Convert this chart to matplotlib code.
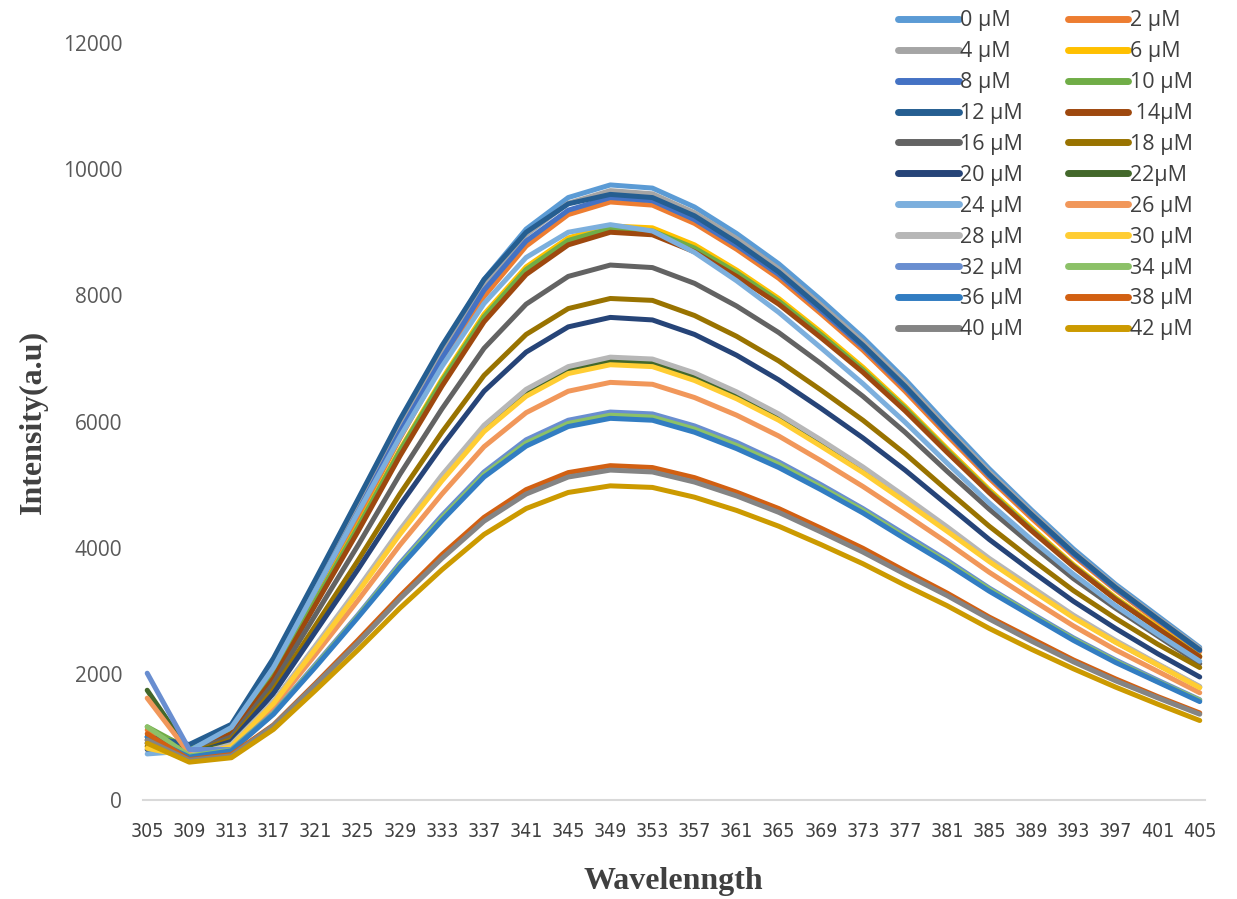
import matplotlib
matplotlib.use("Agg")
import matplotlib.pyplot as plt
from matplotlib.lines import Line2D

wavelengths = list(range(305, 406, 4))

concentrations = [0, 2, 4, 6, 8, 10, 12, 14, 16, 18, 20, 22, 24, 26, 28, 30, 32, 34, 36, 38, 40, 42]
labels = ["0 µM", "2 µM", "4 µM", "6 µM", "8 µM", "10 µM", "12 µM", " 14µM", "16 µM", "18 µM",
          "20 µM", "22µM", "24 µM", "26 µM", "28 µM", "30 µM", "32 µM", "34 µM", "36 µM", "38 µM",
          "40 µM", "42 µM"]
colors = ["#5B9BD5", "#ED7D31", "#A5A5A5", "#FFC000", "#4472C4", "#70AD47", "#255E91", "#9E480E",
          "#636363", "#997300", "#264478", "#43682B", "#7CAFDD", "#F1975A", "#B7B7B7", "#FFCD33",
          "#698ED0", "#8CC168", "#327DC2", "#D26012", "#848484", "#CC9A00"]

s0 = [1000, 860, 1150, 2150, 3400, 4650, 5950, 7150, 8250, 9050, 9550, 9750, 9700, 9400, 8980, 8500, 7930, 7330, 6670, 5950, 5250, 4600, 3980, 3420, 2920, 2420]
s2 = [1110, 830, 1100, 2040, 3250, 4470, 5730, 6910, 7980, 8780, 9280, 9480, 9430, 9140, 8730, 8270, 7710, 7130, 6480, 5780, 5100, 4470, 3870, 3330, 2830, 2350]
s4 = [950, 870, 1150, 2130, 3370, 4610, 5890, 7080, 8170, 8960, 9460, 9660, 9610, 9310, 8900, 8420, 7850, 7260, 6610, 5890, 5200, 4560, 3940, 3390, 2890, 2400]
s6 = [850, 780, 1080, 2000, 3180, 4340, 5550, 6670, 7700, 8450, 8910, 9100, 9070, 8800, 8400, 7950, 7420, 6860, 6240, 5570, 4920, 4320, 3730, 3210, 2740, 2280]
s8 = [900, 850, 1130, 2110, 3330, 4560, 5830, 7000, 8080, 8860, 9350, 9550, 9500, 9200, 8790, 8330, 7760, 7180, 6530, 5830, 5140, 4510, 3900, 3350, 2860, 2370]
s10 = [1160, 800, 1080, 1990, 3160, 4320, 5530, 6640, 7660, 8410, 8870, 9060, 9020, 8750, 8360, 7910, 7380, 6820, 6210, 5540, 4890, 4290, 3710, 3190, 2720, 2270]
s12 = [1000, 880, 1200, 2250, 3500, 4760, 6030, 7200, 8250, 9000, 9450, 9600, 9550, 9260, 8840, 8370, 7800, 7210, 6560, 5850, 5160, 4530, 3920, 3370, 2870, 2380]
s14 = [950, 780, 1050, 1930, 3100, 4250, 5450, 6560, 7580, 8330, 8800, 9000, 8960, 8690, 8300, 7860, 7330, 6780, 6170, 5510, 4870, 4270, 3700, 3180, 2720, 2270]
s16 = [900, 760, 1000, 1850, 2940, 4030, 5160, 6200, 7160, 7860, 8300, 8480, 8440, 8190, 7830, 7410, 6920, 6400, 5830, 5210, 4610, 4050, 3510, 3040, 2600, 2160]
s18 = [850, 740, 960, 1750, 2770, 3790, 4850, 5830, 6730, 7380, 7790, 7950, 7920, 7680, 7350, 6960, 6500, 6020, 5490, 4910, 4340, 3820, 3320, 2880, 2470, 2100]
s20 = [800, 720, 930, 1690, 2670, 3650, 4670, 5610, 6480, 7100, 7500, 7650, 7610, 7380, 7050, 6660, 6210, 5740, 5230, 4680, 4130, 3630, 3150, 2720, 2320, 1950]
s22 = [1740, 760, 880, 1550, 2430, 3320, 4250, 5100, 5890, 6460, 6810, 6960, 6930, 6710, 6410, 6070, 5660, 5230, 4770, 4290, 3800, 3350, 2910, 2510, 2150, 1790]
s24 = [730, 780, 1150, 2100, 3330, 4550, 5750, 6870, 7870, 8600, 9000, 9120, 9020, 8680, 8230, 7730, 7170, 6600, 5990, 5340, 4710, 4130, 3580, 3080, 2630, 2200]
s26 = [1615, 740, 850, 1480, 2310, 3160, 4040, 4850, 5600, 6140, 6480, 6620, 6590, 6380, 6100, 5770, 5380, 4970, 4530, 4080, 3610, 3180, 2760, 2380, 2040, 1700]
s28 = [900, 700, 880, 1560, 2450, 3350, 4280, 5150, 5940, 6510, 6870, 7020, 6990, 6770, 6470, 6120, 5710, 5280, 4810, 4330, 3830, 3380, 2930, 2530, 2160, 1800]
s30 = [820, 680, 850, 1530, 2400, 3290, 4210, 5060, 5840, 6400, 6760, 6900, 6870, 6650, 6360, 6020, 5610, 5190, 4730, 4260, 3780, 3330, 2890, 2500, 2140, 1780]
s32 = [2010, 800, 800, 1380, 2150, 2930, 3750, 4510, 5200, 5710, 6020, 6150, 6120, 5930, 5670, 5360, 5000, 4620, 4210, 3800, 3360, 2960, 2570, 2220, 1900, 1590]
s34 = [1160, 700, 790, 1370, 2130, 2910, 3720, 4470, 5160, 5660, 5970, 6100, 6070, 5880, 5620, 5320, 4960, 4590, 4170, 3770, 3340, 2940, 2550, 2200, 1880, 1580]
s36 = [1000, 680, 780, 1360, 2110, 2890, 3690, 4430, 5120, 5610, 5920, 6050, 6020, 5830, 5570, 5270, 4920, 4550, 4140, 3740, 3310, 2920, 2530, 2180, 1870, 1560]
s38 = [1050, 640, 720, 1190, 1850, 2530, 3230, 3890, 4480, 4920, 5190, 5300, 5270, 5110, 4880, 4620, 4310, 3990, 3630, 3280, 2900, 2560, 2220, 1920, 1640, 1380]
s40 = [950, 630, 700, 1180, 1830, 2490, 3190, 3830, 4420, 4850, 5120, 5230, 5200, 5040, 4820, 4560, 4250, 3930, 3580, 3240, 2870, 2520, 2190, 1890, 1620, 1360]
s42 = [900, 600, 670, 1120, 1740, 2375, 3040, 3650, 4210, 4620, 4875, 4980, 4955, 4800, 4590, 4340, 4050, 3745, 3405, 3080, 2720, 2390, 2080, 1790, 1520, 1260]

series = [s0, s2, s4, s6, s8, s10, s12, s14, s16, s18, s20, s22, s24, s26, s28, s30, s32, s34, s36, s38, s40, s42]

y_ticks = [0, 2000, 4000, 6000, 8000, 10000, 12000]
x_ticks = list(range(305, 406, 4))

W, H = 1237, 899
fig = plt.figure(figsize=(W / 100, H / 100), dpi=100)
ax = fig.add_axes([143 / W, (H - 800) / H, (1205 - 143) / W, (800 - 43) / H])

for vals, col in zip(series, colors):
    ax.plot(wavelengths, vals, color=col, lw=3.6, solid_capstyle="round", solid_joinstyle="round")

ax.set_xlim(304.6, 405.5)
ax.set_ylim(0, 12000)
ax.set_yticks(y_ticks)
ax.set_yticklabels([str(v) for v in y_ticks], fontsize=15, color="#595959", family=["Open Sans", "DejaVu Sans"])
ax.set_xticks(x_ticks)
ax.set_xticklabels([str(v) for v in x_ticks], fontsize=14, color="#404040",
                   family=["DejaVu Sans"], fontstretch="condensed")
ax.tick_params(axis="both", length=0)
ax.tick_params(axis="y", pad=15)
ax.tick_params(axis="x", pad=16)
for side in ["top", "right", "left"]:
    ax.spines[side].set_visible(False)
ax.spines["bottom"].set_color("#D9D9D9")
ax.spines["bottom"].set_linewidth(1.5)

fig.text(673 / W, 1 - 882 / H, "Wavelenngth", ha="center", va="center", fontsize=23,
         fontweight="bold", color="#404040", family=["Liberation Serif", "DejaVu Serif"])
fig.text(33 / W, 1 - 422 / H, "Intensity(a.u)", ha="center", va="center", rotation=90, fontsize=23,
         fontweight="bold", color="#404040", family=["Liberation Serif", "DejaVu Serif"])

# legend: row-major order as in the reference (two columns)
order = list(range(0, 22, 2)) + list(range(1, 22, 2))
handles = [Line2D([0], [0], color=colors[i], lw=5, solid_capstyle="round") for i in order]
leg_labels = [labels[i] for i in order]
fig.legend(handles, leg_labels, ncol=2, loc="upper left", bbox_to_anchor=(879 / W, 1 + 9 / H),
           frameon=False, handlelength=2.8, handletextpad=0.06, columnspacing=2.1,
           labelspacing=0.46, prop={"family": ["Open Sans", "DejaVu Sans"], "size": 15.5},
           labelcolor="#404040")

fig.savefig("out.png", dpi=100, facecolor="white")
